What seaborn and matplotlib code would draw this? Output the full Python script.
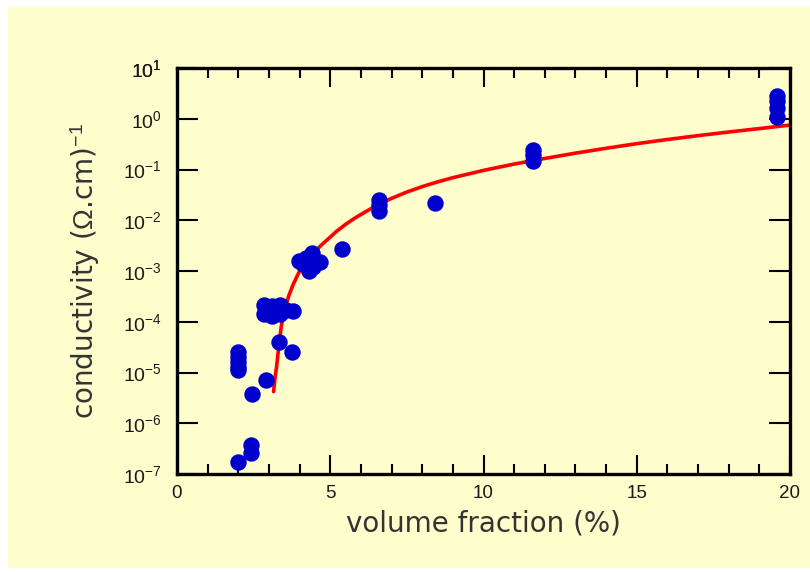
import matplotlib
matplotlib.use("Agg")
import matplotlib.pyplot as plt
import matplotlib.ticker as mticker
from matplotlib.patches import Rectangle
import pandas as pd
import seaborn as sns

# Measured conductivity vs filler volume fraction
vol_frac = [2.0, 2.0, 2.0, 2.0, 2.0, 2.0, 2.42, 2.42, 2.45, 2.9,
            2.85, 2.85, 3.1, 3.1, 3.35, 3.35, 3.55, 3.8, 3.33, 3.75,
            3.98, 4.2, 4.4, 4.45, 4.3, 4.65, 4.1, 5.38,
            6.6, 6.6, 6.6, 8.42, 11.6, 11.6, 11.6,
            19.56, 19.56, 19.56, 19.56]
conductivity = [2.5e-5, 2.0e-5, 1.6e-5, 1.3e-5, 1.1e-5, 1.7e-7, 3.7e-7, 2.6e-7, 3.8e-6, 7.0e-6,
                2.1e-4, 1.4e-4, 2.0e-4, 1.3e-4, 2.1e-4, 1.4e-4, 1.7e-4, 1.6e-4, 4.0e-5, 2.5e-5,
                1.6e-3, 1.8e-3, 2.3e-3, 1.2e-3, 1.0e-3, 1.5e-3, 1.4e-3, 2.7e-3,
                2.5e-2, 2.0e-2, 1.5e-2, 2.2e-2, 0.24, 0.19, 0.15,
                2.8, 2.2, 1.6, 1.1]

# Percolation fit curve, sampled along its length
fit_frac = [3.15, 3.2, 3.25, 3.3, 3.4, 3.5, 3.65, 3.8, 4.0, 4.3, 4.7, 5.2, 5.5,
            5.8, 6.0, 6.6, 7.0, 7.5, 8.0, 8.5, 9.0, 10.0, 11.0, 12.0, 13.0,
            14.0, 15.0, 16.0, 17.0, 18.0, 19.0, 20.0]
fit_cond = [4.2e-6, 8.0e-6, 1.3e-5, 2.5e-5, 8.0e-5, 1.6e-4, 3.3e-4, 5.6e-4, 1.0e-3,
            1.8e-3, 3.2e-3, 6.0e-3, 8.3e-3, 1.1e-2, 1.3e-2, 2.1e-2, 2.7e-2, 3.6e-2,
            4.6e-2, 5.7e-2, 6.9e-2, 9.6e-2, 0.128, 0.165, 0.21, 0.262, 0.323, 0.39,
            0.465, 0.548, 0.64, 0.75]

x_ticks = [0, 5, 10, 15, 20]
y_exponents = list(range(-7, 2))

sns.set_theme(style="ticks")
plt.rcParams["font.family"] = ["Liberation Sans", "DejaVu Sans"]
plt.rcParams["mathtext.fontset"] = "custom"
plt.rcParams["mathtext.rm"] = "Liberation Sans"
plt.rcParams["mathtext.it"] = "Liberation Sans:italic"
plt.rcParams["mathtext.bf"] = "Liberation Sans:bold"

panel = "#FEFDCC"
text_col = "#333333"
tick_col = "#1a1a1a"

fig = plt.figure(figsize=(8.1, 5.72), dpi=100)
fig.patch.set_facecolor("white")
fig.patches.append(Rectangle((8 / 810, 4 / 572), 802 / 810, 561 / 572,
                             transform=fig.transFigure, facecolor=panel,
                             edgecolor="none", zorder=-10))

ax = fig.add_axes([177 / 810, 98 / 572, 613 / 810, 406 / 572])
ax.set_zorder(5)
ax.set_facecolor(panel)

pts = pd.DataFrame({"vf": vol_frac, "sigma": conductivity})
fit = pd.DataFrame({"vf": fit_frac, "sigma": fit_cond})

sns.lineplot(data=fit, x="vf", y="sigma", sort=False, estimator=None,
             color="#FF0000", linewidth=2.6, ax=ax, zorder=2)
sns.scatterplot(data=pts, x="vf", y="sigma", color="#0000CC", s=140,
                linewidth=0, ax=ax, zorder=3)

ax.set_yscale("log")
ax.set_xlim(0, 20)
ax.set_ylim(1e-7, 1e1)

ax.xaxis.set_major_locator(mticker.FixedLocator(x_ticks))
ax.xaxis.set_minor_locator(mticker.MultipleLocator(1))
ax.yaxis.set_major_locator(mticker.FixedLocator([10.0 ** e for e in y_exponents + [1]]))
ax.yaxis.set_minor_locator(mticker.NullLocator())
ax.set_yticklabels([rf"$\mathregular{{10^{{{e}}}}}$" for e in y_exponents + [1]])
ax.set_xticklabels([str(v) for v in x_ticks])

ax.tick_params(axis="both", which="both", direction="in", top=True, right=True,
               colors="black", labelcolor=tick_col)
ax.tick_params(axis="x", which="major", length=14, width=1.5, labelsize=13.5, pad=8)
ax.tick_params(axis="x", which="minor", length=7, width=1.5)
ax.tick_params(axis="y", which="major", length=15, width=1.5, labelsize=14, pad=11)

for sp in ax.spines.values():
    sp.set_linewidth(2.4)
    sp.set_color("black")

label_font = ["DejaVu Sans"]
ax.set_xlabel("volume fraction (%)", fontsize=20, color=text_col, labelpad=5,
              family=label_font)
ax.set_ylabel(r"conductivity ($\Omega$.cm)$^{-1}$", fontsize=20, color=text_col,
              labelpad=15, family=label_font)

fig.savefig("out.png", dpi=100)
